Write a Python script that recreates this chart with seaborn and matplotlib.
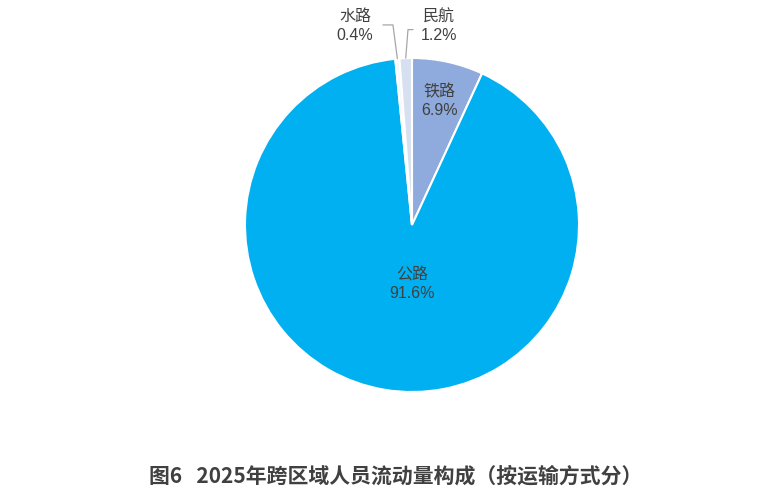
import matplotlib
matplotlib.use("Agg")
import matplotlib.pyplot as plt
import seaborn as sns
import numpy as np

categories = ["铁路", "公路", "水路", "民航"]
shares = [6.9, 91.6, 0.4, 1.2]
label_texts = ["铁路\n6.9%", "公路\n91.6%", "水路\n0.4%", "民航\n1.2%"]
title = "图6   2025年跨区域人员流动量构成（按运输方式分）"

sns.set_theme(style="white")
plt.rcParams['font.family'] = ['Noto Sans CJK SC', 'DejaVu Sans']
label_family = ['Liberation Sans', 'Noto Sans CJK SC']

colors = ["#8FAADC", "#00B0F0", "#F4F7FC", "#D6E0F0"]
text_color = "#404040"

W, H = 764, 490
fig = plt.figure(figsize=(W / 100, H / 100), dpi=100)
ax = fig.add_axes([0, 0, 1, 1])

wedges, _ = ax.pie(shares, colors=colors, startangle=90, counterclock=False,
                   wedgeprops=dict(edgecolor="white", linewidth=1.5))

cx, cy, r = 412, 225, 167
ax.set_xlim((0 - cx) / r, (W - cx) / r)
ax.set_ylim(-(H - cy) / r, cy / r)
ax.axis("off")

mids = [np.deg2rad((w.theta1 + w.theta2) / 2) for w in wedges]

lab_kw = dict(ha="center", va="center", fontsize=11.5, color=text_color,
              linespacing=1.3, family=label_family)

# inside labels
for i, d in [(0, 0.76), (1, 0.36)]:
    a = mids[i]
    x, y = d * np.cos(a), d * np.sin(a)
    if i == 1:
        x = 0.0
    ax.text(x, y, label_texts[i], **lab_kw)

# outside labels with leader lines
line_color = "#A6A6A6"
a = mids[2]
ex, ey = np.cos(a), np.sin(a)
ax.plot([-0.174, -0.114, ex], [1.198, 1.198, ey], color=line_color, lw=0.9)
ax.text(-0.34, 1.19, label_texts[2], **lab_kw)

a = mids[3]
ex, ey = np.cos(a), np.sin(a)
ax.plot([0.006, -0.024, ex], [1.17, 1.17, ey], color=line_color, lw=0.9)
ax.text(0.16, 1.19, label_texts[3], **lab_kw)

fig.text(396 / W, 1 - 476 / H, title, ha="center", va="center", fontsize=15,
         fontweight="bold", color=text_color)

fig.savefig("out.png", dpi=100)
